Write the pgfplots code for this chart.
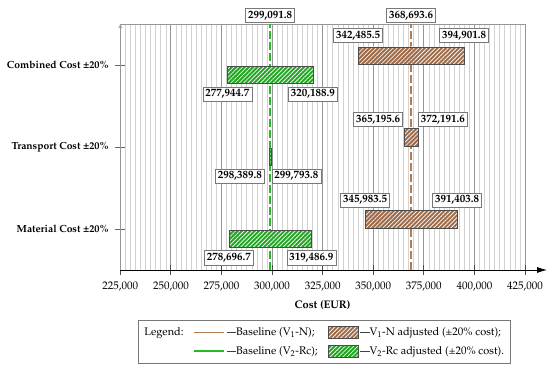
\documentclass[border=0pt]{standalone}
\usepackage[T1]{fontenc}
\usepackage{mathpazo}
\usepackage{pgfplots}
\pgfplotsset{compat=1.18}
\usetikzlibrary{patterns.meta, arrows.meta}
\definecolor{brownbar}{RGB}{158,106,72}
\definecolor{brownline}{RGB}{176,124,86}
\definecolor{greenbar}{RGB}{34,165,34}
\definecolor{greenline}{RGB}{40,185,40}
\definecolor{majgrid}{RGB}{150,150,150}
\definecolor{mingrid}{RGB}{210,210,210}
\definecolor{boxgray}{RGB}{120,120,120}
\newcommand{\fsz}{\fontsize{11}{13}\selectfont}
\newcommand{\ldash}{\textcolor{black!75}{\rule[0.27em]{9pt}{0.8pt}}}
\tikzset{
  lab/.style={draw=boxgray, fill=white, line width=0.7pt, font=\bfseries\fsz, inner xsep=2.5pt, inner ysep=2.5pt},
  hatchW/.style={draw=black!70, line width=0.6pt, pattern={Lines[angle=45,distance=3pt,line width=0.8pt]}, pattern color=white!90!#1},
}
\pgfplotsset{
  lineleg/.style={legend image code/.code={\draw[##1, line width=1.5pt] (0pt,0pt) -- (30pt,0pt);}},
  brownleg/.style={legend image code/.code={
     \fill[brownbar] (0pt,-6pt) rectangle (30pt,6pt);
     \path[hatchW=brownbar] (0pt,-6pt) rectangle (30pt,6pt);}},
  greenleg/.style={legend image code/.code={
     \fill[greenbar] (0pt,-6pt) rectangle (30pt,6pt);
     \path[hatchW=greenbar] (0pt,-6pt) rectangle (30pt,6pt);}},
}
\begin{document}
\begin{tikzpicture}
\useasboundingbox (0,0) rectangle (550pt,369pt);
\begin{axis}[
  at={(120.3pt,99pt)}, anchor=south west,
  width=404.7pt, height=245.7pt, scale only axis,
  xmin=225000, xmax=425000, ymin=0.5, ymax=3.5,
  clip=false,
  axis x line=bottom, axis y line=left,
  x axis line style={black, line width=0.8pt, -{Latex[length=10pt,width=6pt]}, shorten >=-22pt},
  y axis line style={majgrid, line width=0.8pt},
  xtick={225000,250000,275000,300000,325000,350000,375000,400000,425000},
  xticklabels={{225,000},{250,000},{275,000},{300,000},{325,000},{350,000},{375,000},{400,000},{425,000}},
  minor x tick num=9,
  xmajorgrids, xminorgrids,
  major grid style={majgrid, line width=0.8pt},
  minor grid style={mingrid, line width=0.6pt},
  tick align=center,
  major tick length=10pt,
  minor tick length=0pt,
  xtick style={black!70, line width=0.8pt},
  ytick style={black!60, line width=0.8pt},
  ytick={1,2,3},
  yticklabels={Material Cost \textpm20\%, Transport Cost \textpm20\%, Combined Cost \textpm20\%},
  y tick label style={font=\bfseries\fontsize{10.3}{12}\selectfont, anchor=east, xshift=-3pt},
  x tick label style={font=\fsz, yshift=-3pt},
  extra y ticks={3.5}, extra y tick labels={},
  extra y tick style={ymajorgrids=true, major tick length=0pt},
  scaled x ticks=false,
  xlabel={Cost (EUR)},
  xlabel style={font=\bfseries\fsz, yshift=-3pt},
  legend columns=3,
  legend style={at={(0.0437,-0.2035)}, anchor=north west, draw=boxgray, line width=0.8pt,
    font=\fsz, inner xsep=4pt, inner ysep=5.5pt,
    /tikz/every even column/.append style={column sep=8pt},
    cells={anchor=west}, row sep=5pt},
]
% baselines
\addplot[white, line width=4pt, forget plot] coordinates {(299091.8,0.52) (299091.8,3.48)};
\addplot[greenline, line width=1.8pt, dash pattern=on 8pt off 3pt, forget plot] coordinates {(299091.8,0.5) (299091.8,3.5)};
\addplot[white, line width=4pt, forget plot] coordinates {(368693.6,0.52) (368693.6,3.48)};
\addplot[brownline, line width=1.8pt, dash pattern=on 8pt off 3pt, forget plot] coordinates {(368693.6,0.5) (368693.6,3.5)};
% V1-N bars (fill, then hatch + outline)
\addplot[fill=brownbar, draw=none, forget plot] coordinates {(342485.5,3.012) (394901.8,3.012) (394901.8,3.225) (342485.5,3.225)} -- cycle;
\addplot[hatchW=brownbar, forget plot] coordinates {(342485.5,3.012) (394901.8,3.012) (394901.8,3.225) (342485.5,3.225)} -- cycle;
\addplot[fill=brownbar, draw=none, forget plot] coordinates {(365195.6,2.012) (372191.6,2.012) (372191.6,2.225) (365195.6,2.225)} -- cycle;
\addplot[hatchW=brownbar, forget plot] coordinates {(365195.6,2.012) (372191.6,2.012) (372191.6,2.225) (365195.6,2.225)} -- cycle;
\addplot[fill=brownbar, draw=none, forget plot] coordinates {(345983.5,1.012) (391403.8,1.012) (391403.8,1.225) (345983.5,1.225)} -- cycle;
\addplot[hatchW=brownbar, forget plot] coordinates {(345983.5,1.012) (391403.8,1.012) (391403.8,1.225) (345983.5,1.225)} -- cycle;
% V2-Rc bars
\addplot[fill=greenbar, draw=none, forget plot] coordinates {(277944.7,2.775) (320188.9,2.775) (320188.9,2.988) (277944.7,2.988)} -- cycle;
\addplot[hatchW=greenbar, forget plot] coordinates {(277944.7,2.775) (320188.9,2.775) (320188.9,2.988) (277944.7,2.988)} -- cycle;
\addplot[fill=greenbar, draw=none, forget plot] coordinates {(298389.8,1.775) (299793.8,1.775) (299793.8,1.988) (298389.8,1.988)} -- cycle;
\addplot[hatchW=greenbar, forget plot] coordinates {(298389.8,1.775) (299793.8,1.775) (299793.8,1.988) (298389.8,1.988)} -- cycle;
\addplot[fill=greenbar, draw=none, forget plot] coordinates {(278696.7,0.775) (319486.9,0.775) (319486.9,0.988) (278696.7,0.988)} -- cycle;
\addplot[hatchW=greenbar, forget plot] coordinates {(278696.7,0.775) (319486.9,0.775) (319486.9,0.988) (278696.7,0.988)} -- cycle;
% legend
\addlegendimage{empty legend}\addlegendentry{Legend:}
\addlegendimage{lineleg, brownline}\addlegendentry{\ldash Baseline (V\textsubscript{1}-N);}
\addlegendimage{brownleg}\addlegendentry{\ldash V\textsubscript{1}-N adjusted (\textpm20\% cost);}
\addlegendimage{empty legend}\addlegendentry{}
\addlegendimage{lineleg, greenline}\addlegendentry{\ldash Baseline (V\textsubscript{2}-Rc);}
\addlegendimage{greenleg}\addlegendentry{\ldash V\textsubscript{2}-Rc adjusted (\textpm20\% cost).}
% labels
\node[lab, anchor=south, yshift=1.5pt] at (axis cs:299091.8,3.5) {299,091.8};
\node[lab, anchor=south, yshift=1.5pt] at (axis cs:368693.6,3.5) {368,693.6};
\node[lab, anchor=south, yshift=4pt] at (axis cs:342485.5,3.225) {342,485.5};
\node[lab, anchor=south, yshift=4pt] at (axis cs:394901.8,3.225) {394,901.8};
\node[lab, anchor=north, yshift=-3pt] at (axis cs:277944.7,2.775) {277,944.7};
\node[lab, anchor=north, yshift=-3pt] at (axis cs:320188.9,2.775) {320,188.9};
\node[lab, anchor=south east, yshift=2pt, xshift=-1pt] at (axis cs:365195.6,2.225) {365,195.6};
\node[lab, anchor=south west, yshift=2pt] at (axis cs:372191.6,2.225) {372,191.6};
\node[lab, anchor=north east, yshift=-3pt, xshift=-4pt] at (axis cs:298389.8,1.775) {298,389.8};
\node[lab, anchor=north west, yshift=-3pt] at (axis cs:299793.8,1.775) {299,793.8};
\node[lab, anchor=south, yshift=3pt] at (axis cs:345983.5,1.225) {345,983.5};
\node[lab, anchor=south, yshift=3pt] at (axis cs:391403.8,1.225) {391,403.8};
\node[lab, anchor=north, yshift=-3pt] at (axis cs:278696.7,0.775) {278,696.7};
\node[lab, anchor=north, yshift=-3pt] at (axis cs:319486.9,0.775) {319,486.9};
\end{axis}
\end{tikzpicture}
\end{document}
